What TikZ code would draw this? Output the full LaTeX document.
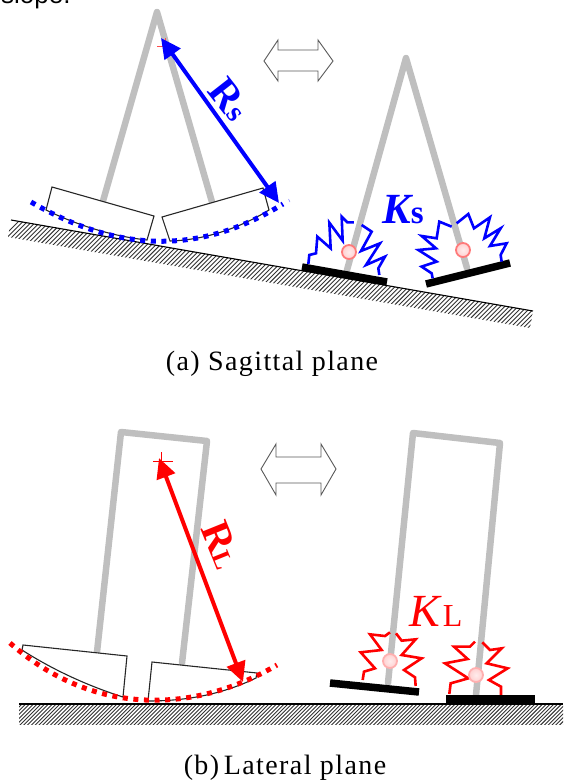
\documentclass[tikz,border=0pt]{standalone}
\usepackage{fontspec}
\setmainfont{Liberation Serif}
\newfontfamily\capsans{Liberation Sans}
\newfontfamily\capserif[LetterSpace=5]{Liberation Serif}
\usetikzlibrary{arrows.meta}
\definecolor{leggray}{HTML}{BFBFBF}
\definecolor{ballring}{HTML}{FF7A7A}
\definecolor{ballfill}{HTML}{FFD0D0}
\tikzset{
  x=1pt,y=-1pt,
  leg/.style={draw=leggray,line width=6.5pt,line join=round,line cap=round},
  footshape/.style={draw=black!85,line width=1.1pt,fill=white,line join=miter},
  bar/.style={draw=black,line width=7.5pt},
  ball/.style={circle,minimum size=14pt,inner sep=0pt,draw=ballring,line width=1.8pt,inner color=ballfill!40!white,outer color=ballfill},
  bluespring/.style={draw=blue,line width=2.6pt,line join=miter},
  redspring/.style={draw=red,line width=2.6pt,line join=miter},
  arc dots/.style={line width=5pt,dash pattern=on 5pt off 5.6pt},
  radius arrow/.style={line width=4pt,{Triangle[length=20pt,width=19pt]}-{Triangle[length=20pt,width=19pt]}},
  dbl/.style={draw=black!65,line width=.9pt,fill=white,line join=miter},
  capt/.style={font=\capserif\fontsize{28}{30}\selectfont,anchor=base,inner sep=0pt},
  hatchline/.style={line width=.9pt,black!80},
  sym/.style={inner sep=0pt,anchor=base}
}
\begin{document}
\begin{tikzpicture}
\useasboundingbox (0,0) rectangle (563,780);
\begin{scope}
\clip (0,0) rectangle (563,780);
\node[sym,anchor=base west] (slope) at (1,3) {\capsans\fontsize{26}{28}\selectfont slope.};
\end{scope}

% ---------- sagittal ground
\begin{scope}
\clip (11,220) -- (533,311) -- (530,328) -- (8,237) -- cycle;
\foreach \x in {0,3.8,...,560} \draw[hatchline] (\x,\x*0.1743+240) -- (\x+27,\x*0.1743+213);
\end{scope}
\coordinate (ga1) at (11,220); \coordinate (ga2) at (533,311);
\draw[line width=1.1pt] (ga1) -- (ga2);

% ---------- sagittal left figure
\coordinate (apexA) at (157,12);
\coordinate (lfA) at (103,201);
\coordinate (rfA) at (212,202);
\draw[leg] (lfA) -- (apexA) -- (rfA);
\draw[footshape] (52,187) -- (154,216) -- (147,240) .. controls (110,236) and (75,224) .. (46,210) -- cycle;
\draw[footshape] (162,217) -- (263,188) -- (269,210) .. controls (240,228) and (205,240) .. (170,241) -- cycle;
\draw[blue,arc dots] (31,202) .. controls (119,253) and (200,255) .. (283,204);
\draw[blue!50,line width=.5pt] (288.5,199) -- (290,202);
\draw[red!70,line width=.8pt] (157,46.5) -- (167,46.5) (165,38) -- (165,46);
\coordinate (cA) at (161,38);
\coordinate (eA) at (279,203);
\draw[blue,radius arrow] (cA) -- (eA);
\node[sym,blue,rotate=-52,anchor=center] (rs) at (230,99) {\fontsize{41}{42}\selectfont\bfseries R\fontsize{29}{29}\selectfont s};

% double arrow top
\draw[dbl] (264,61) -- (278,40) -- (278,50) -- (318,50) -- (318,40) -- (333,61) -- (318,81) -- (318,71) -- (278,71) -- (278,81) -- cycle;

% ---------- sagittal right figure
\coordinate (apexB) at (406,58);
\coordinate (lfB) at (347,270);
\coordinate (rfB) at (467,268);
\draw[leg] (lfB) -- (apexB) -- (rfB);
\coordinate (b1a) at (302,267); \coordinate (b1b) at (387,282);
\coordinate (b2a) at (426,284); \coordinate (b2b) at (510,263);
\draw[bar] (b1a) -- (b1b);
\draw[bar] (b2a) -- (b2b);
\begin{scope}[shift={(290,190)},x=.3333pt,y=-.3333pt]
\draw[bluespring] (55,222) -- (58,195) -- (78,190) -- (82,140) -- (122,175) -- (118,98) -- (158,152) -- (155,80) -- (172,97) -- (192,97);
\draw[bluespring] (215,105) -- (245,125) -- (213,183) -- (270,160) -- (228,225) -- (285,200) -- (265,235) -- (268,255);
\end{scope}
\begin{scope}[shift={(280,0)},x=.3333pt,y=-.3333pt]
\draw[bluespring] (458,835) -- (455,820) -- (425,800) -- (470,785) -- (415,750) -- (468,745) -- (425,708) -- (470,715) -- (478,665) -- (515,680);
\draw[bluespring] (530,670) -- (565,642) -- (582,685) -- (630,652) -- (613,715) -- (662,685) -- (630,738) -- (680,730) -- (662,765) -- (665,785);
\end{scope}
\node[ball] (ba1) at (349,252) {};
\node[ball] (ba2) at (463,250) {};
\node[sym,blue,anchor=base west] (ks) at (382,223) {\fontsize{43}{43}\selectfont\bfseries\itshape K\upshape\fontsize{33}{33}\selectfont s};

\node[capt] (capa) at (272,370) {(a) Sagittal plane};

% ---------- lateral ground
\begin{scope}
\clip (19,704) rectangle (563,724);
\foreach \x in {0,3.8,...,570} \draw[hatchline] (\x,726) -- (\x+24,702);
\end{scope}
\coordinate (gb1) at (19,704); \coordinate (gb2) at (563,704);
\draw[line width=1.1pt] (gb1) -- (gb2);

% ---------- lateral left figure
\draw[leg] (97,652) -- (121,432) -- (207,441) -- (182,663);
\draw[footshape] (23,645) -- (127,656) -- (123,697) .. controls (85,685) and (50,668) .. (22,650) -- cycle;
\draw[footshape] (152,662) -- (257,673) -- (256,678) .. controls (225,693) and (190,701) .. (148,701) -- cycle;
\draw[red,arc dots] (10,643) .. controls (90,714) and (190,716) .. (277,665);
\draw[red,line width=1pt] (153,461) -- (173,461) (161,452) -- (161,470);
\coordinate (cB) at (159,458);
\coordinate (eB) at (243,682);
\draw[red,radius arrow] (cB) -- (eB);
\node[sym,red,rotate=-68,anchor=center] (rl) at (222,545) {\fontsize{41}{42}\selectfont\bfseries R\fontsize{26}{26}\selectfont L};

% double arrow bottom
\draw[dbl] (261,469) -- (276,444) -- (276,457) -- (321,457) -- (321,444) -- (336,469) -- (321,495) -- (321,483) -- (276,483) -- (276,495) -- cycle;

% ---------- lateral right figure
\draw[leg] (388,683) -- (413,433) -- (500,443) -- (476,695);
\coordinate (b3a) at (330,683); \coordinate (b3b) at (419,692);
\coordinate (b4a) at (446,699); \coordinate (b4b) at (535,699);
\draw[bar] (b3a) -- (b3b);
\draw[bar] (b4a) -- (b4b);
\begin{scope}[shift={(320,600)},x=.3333pt,y=-.3333pt]
\draw[redspring] (128,240) -- (132,215) -- (165,205) -- (122,157) -- (185,150) -- (150,103) -- (195,108) -- (210,97);
\draw[redspring] (228,100) -- (245,122) -- (287,118) -- (245,165) -- (305,175) -- (252,210) -- (285,232) -- (287,258);
\draw[redspring] (388,282) -- (392,250) -- (445,235) -- (375,190) -- (443,177) -- (402,140) -- (450,140) -- (465,125);
\draw[redspring] (487,127) -- (510,150) -- (545,145) -- (500,190) -- (563,205) -- (507,240) -- (543,260) -- (543,285);
\end{scope}
\node[ball,draw=ballring!60] (bb1) at (390,661) {};
\node[ball,draw=ballring!60] (bb2) at (476,675) {};
\node[sym,red,anchor=base west] (kl) at (409,626) {\fontsize{46}{46}\selectfont\itshape K\upshape\kern3pt\fontsize{32}{32}\selectfont L};

\node[capt] (capb) at (285,774) {(b)\,Lateral plane};
\end{tikzpicture}
\end{document}
